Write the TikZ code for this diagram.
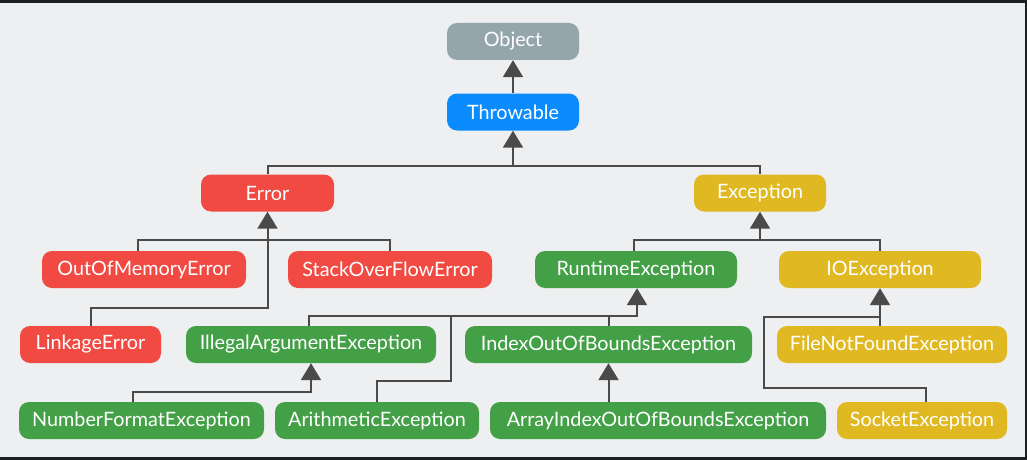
\documentclass[tikz,border=0pt]{standalone}
\usepackage{fontspec}
\setmainfont{Lato}
\usetikzlibrary{arrows.meta, calc}

\definecolor{pagebg}{RGB}{237,239,241}
\definecolor{frame}{RGB}{30,31,34}
\definecolor{objgray}{RGB}{149,165,172}
\definecolor{thrblue}{RGB}{10,140,255}
\definecolor{errred}{RGB}{240,74,67}
\definecolor{rtgreen}{RGB}{67,160,71}
\definecolor{exyellow}{RGB}{224,185,34}
\definecolor{wire}{RGB}{74,74,74}

\begin{document}
\begin{tikzpicture}[
  x=1pt, y=-1pt,
  font=\fontsize{19.8}{22}\selectfont,
  cls/.style   ={rectangle, rounded corners=10pt, text=white, draw=none,
                 minimum height=37pt, inner sep=0pt, align=center},
  obj/.style   ={cls, fill=objgray},
  thr/.style   ={cls, fill=thrblue},
  err/.style   ={cls, fill=errred},
  rte/.style   ={cls, fill=rtgreen},
  chk/.style   ={cls, fill=exyellow},
  ln/.style    ={draw=wire, line width=2pt},
  arr/.style   ={ln, -{Triangle[width=20pt, length=17pt]}},
]

% --- frame and page ---
\fill[frame] (0,0) rectangle (1027,460);
\fill[pagebg] (0,3) rectangle (1025,457);
\useasboundingbox (0,0) rectangle (1027,460);

% --- Top: Object, Throwable ---
\node[obj, minimum width=132pt] (object) at (513, 41.5)  {Object};
\node[thr, minimum width=132pt] (throw)  at (513, 112)   {Throwable};

% --- Row 2 ---
\node[err, minimum width=133pt] (error) at (267.5, 193) {Error};
\node[chk, minimum width=132pt] (excep) at (760, 193)   {Exception};

% --- Row 3 ---
\node[err, minimum width=204pt] (oom)  at (144, 269.5) {OutOfMemoryError};
\node[err, minimum width=204pt] (sof)  at (390, 269.5) {StackOverFlowError};
\node[rte, minimum width=202pt] (rtex) at (636, 269.5) {RuntimeException};
\node[chk, minimum width=202pt] (ioex) at (880, 269.5) {IOException};

% --- Row 4 ---
\node[err, minimum width=141pt] (link)  at (90.5, 344.5)  {LinkageError};
\node[rte, minimum width=250pt] (illeg) at (311, 344.5)   {IllegalArgumentException};
\node[rte, minimum width=287pt] (ioob)  at (608.5, 344.5) {IndexOutOfBoundsException};
\node[chk, minimum width=230pt] (fnf)   at (892, 344.5)   {FileNotFoundException};

% --- Row 5 ---
\node[rte, minimum width=245pt] (numf)  at (141.5, 420.5) {NumberFormatException};
\node[rte, minimum width=204pt] (arith) at (377, 420.5)   {ArithmeticException};
\node[rte, minimum width=336pt] (aioob) at (658, 420.5)   {ArrayIndexOutOfBoundsException};
\node[chk, minimum width=170pt] (sock)  at (922, 420.5)   {SocketException};

% --- junctions ---
\coordinate (jthr) at (513, 166);
\coordinate (jerr) at (267.5, 240);
\coordinate (jlnk) at (267.5, 308);
\coordinate (jexc) at (760, 240);
\coordinate (jrte) at (637, 316);
\coordinate (jari) at (451, 381);
\coordinate (jnum) at (311, 392);
\coordinate (jsoc) at (764, 388);
\coordinate (jioe) at (880, 317);

% --- Arrows ---
\draw[arr] (throw) -- (object);
\draw[ln]  (error.north) |- (jthr) -| (excep.north);
\draw[arr] (jthr) -- (throw.south);

\draw[ln]  ($(oom.north)+(-6,0)$) |- (jerr) -| (sof.north);
\draw[arr] (link.north) |- (jlnk) -- (error.south);

\draw[ln]  ($(rtex.north)+(-2,0)$) |- (jexc) -| (ioex.north);
\draw[arr] (jexc) -- (excep.south);

\draw[arr] ($(illeg.north)+(-2,0)$) |- (jrte) -- (jrte |- rtex.south);
\draw[ln]  (ioob.north) -- (ioob.north |- jrte);
\draw[ln]  (arith.north) |- (jari) -- (jari |- jrte);

\draw[arr] ($(numf.north)+(-9,0)$) |- (jnum) -- (illeg.south);
\draw[arr] (ioob.south |- aioob.north) -- (ioob.south);

\draw[arr] (ioex.south |- fnf.north) -- (ioex.south);
\draw[ln]  ($(sock.north)+(4,0)$) |- (jsoc) |- (jioe);
\end{tikzpicture}
\end{document}
